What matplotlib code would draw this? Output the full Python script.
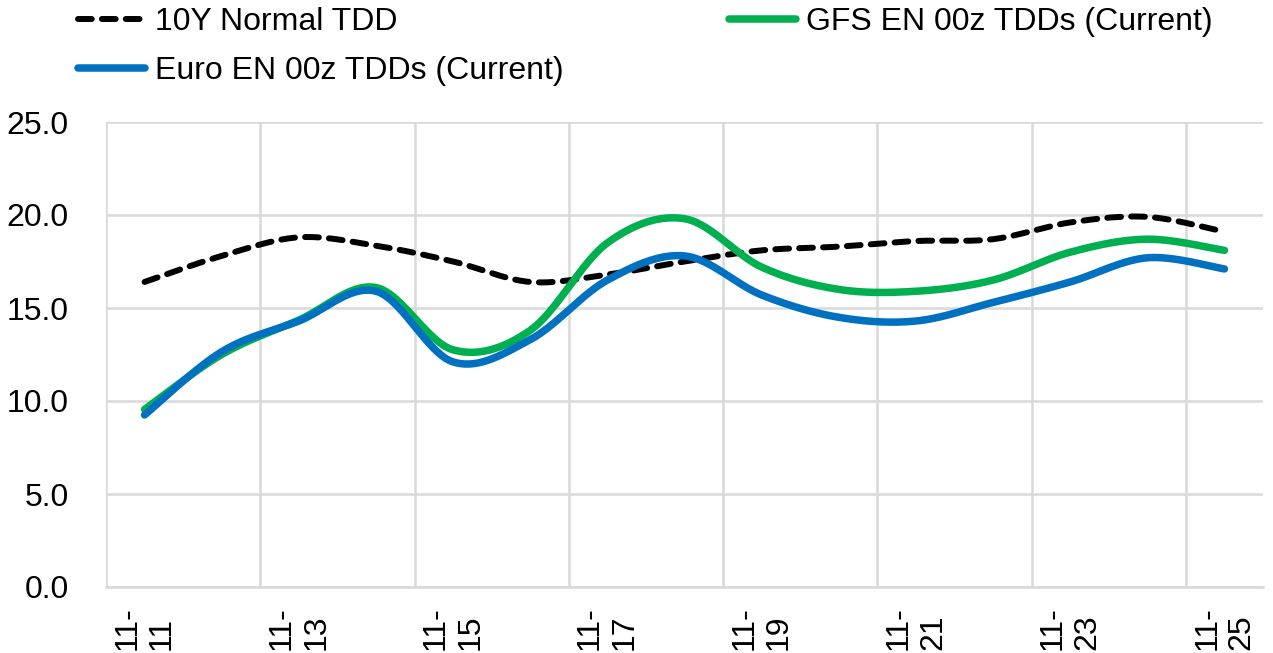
import numpy as np
import matplotlib
matplotlib.use("Agg")
import matplotlib.pyplot as plt

plt.rcParams['font.family'] = ['Liberation Sans', 'DejaVu Sans']

# --- data (TDDs per day, 11-11 .. 11-25) ---
dates = ["11-11", "11-12", "11-13", "11-14", "11-15", "11-16", "11-17", "11-18",
         "11-19", "11-20", "11-21", "11-22", "11-23", "11-24", "11-25"]
normal_tdd = [16.4, 17.8, 18.8, 18.35, 17.5, 16.4, 16.8, 17.5,
              18.1, 18.3, 18.6, 18.7, 19.6, 19.9, 19.1]
gfs_tdd = [9.55, 12.5, 14.35, 16.1, 12.75, 13.8, 18.5, 19.8,
           17.2, 16.0, 15.9, 16.5, 18.0, 18.7, 18.1]
euro_tdd = [9.25, 12.65, 14.3, 15.9, 12.1, 13.3, 16.5, 17.8,
            15.7, 14.5, 14.3, 15.3, 16.4, 17.7, 17.1]

GREEN = '#00B050'
BLUE = '#0070C0'
GRID = '#D9D9D9'
FS = 23


def smooth(xs, ys, n=40):
    # excel-style smoothed line (bezier through the points)
    p = np.column_stack([xs, ys]).astype(float)
    out = []
    for i in range(len(p) - 1):
        p0 = p[i - 1] if i > 0 else p[i]
        p1, p2 = p[i], p[i + 1]
        p3 = p[i + 2] if i + 2 < len(p) else p[i + 1]
        c1 = p1 + (p2 - p0) / 6.0
        c2 = p2 - (p3 - p1) / 6.0
        t = np.linspace(0, 1, n)[:, None]
        seg = ((1 - t) ** 3) * p1 + 3 * ((1 - t) ** 2) * t * c1 \
            + 3 * (1 - t) * t ** 2 * c2 + t ** 3 * p2
        out.append(seg if i == 0 else seg[1:])
    out = np.vstack(out)
    return out[:, 0], out[:, 1]


fig = plt.figure(figsize=(12.73, 6.53), dpi=100)
ax = fig.add_axes([106 / 1273, 1 - 587 / 653, (1263 - 106) / 1273, (587 - 122) / 653])

x = np.arange(len(dates))

sx, sy = smooth(x, normal_tdd)
l_norm, = ax.plot(sx, sy, color='black', lw=4.3, dashes=(2.3, 1.7),
                  dash_capstyle='round', label='10Y Normal TDD', zorder=3)
sx, sy = smooth(x, gfs_tdd)
l_gfs, = ax.plot(sx, sy, color=GREEN, lw=5.4, solid_capstyle='round',
                 label='GFS EN 00z TDDs (Current)', zorder=4)
sx, sy = smooth(x, euro_tdd)
l_euro, = ax.plot(sx, sy, color=BLUE, lw=5.4, solid_capstyle='round',
                  label='Euro EN 00z TDDs (Current)', zorder=5)

ax.set_xlim(-0.5, len(dates) - 0.5)
ax.set_ylim(0, 25)
ax.set_yticks(np.arange(0, 26, 5))
ax.set_yticklabels([f"{v:.1f}" for v in np.arange(0, 26, 5)], fontsize=FS)
ax.tick_params(axis='y', length=0, pad=27)

# tick labels every 2 days, gridlines at category boundaries
ax.set_xticks(x[::2])
ax.set_xticklabels([d.replace('-', '-\n') for d in dates[::2]], rotation=90,
                   fontsize=FS, va='top', ha='center', multialignment='left')
ax.tick_params(axis='x', length=0, pad=14)
for b in np.arange(-0.5, len(dates) - 1, 2):
    ax.axvline(b, color=GRID, lw=1.8, zorder=1)
ax.yaxis.grid(True, color=GRID, lw=1.8, zorder=1)
ax.set_axisbelow(True)

for s in ['top', 'right', 'left']:
    ax.spines[s].set_visible(False)
ax.spines['bottom'].set_color(GRID)
ax.spines['bottom'].set_linewidth(1.8)

fig.legend(handles=[l_norm, l_euro, l_gfs], ncol=2, frameon=False,
           loc='upper left', bbox_to_anchor=(78 / 1273, 1 - 7 / 653),
           fontsize=FS, handlelength=2.1, handletextpad=0.3,
           columnspacing=5.2, labelspacing=0.6, borderpad=0, borderaxespad=0)

fig.savefig('out.png', dpi=100)
